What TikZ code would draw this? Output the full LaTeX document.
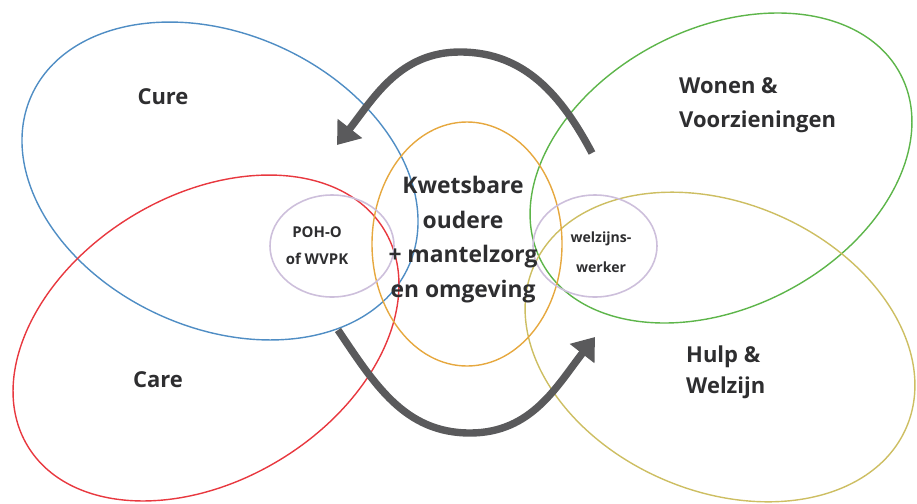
\documentclass[tikz,border=0pt]{standalone}
\usepackage{fontspec}
\setmainfont{Open Sans}
\usetikzlibrary{positioning, arrows.meta, shapes.geometric}
\definecolor{zBlue}{HTML}{4F8DC4}
\definecolor{zRed}{HTML}{E8383F}
\definecolor{zGreen}{HTML}{5DB54A}
\definecolor{zOlive}{HTML}{CDBE62}
\definecolor{zOrange}{HTML}{E6A83F}
\definecolor{zLila}{HTML}{CDBFDB}
\definecolor{zArrow}{HTML}{5A5A5C}
\definecolor{zText}{HTML}{2E2E30}

\begin{document}
\begin{tikzpicture}[
  every node/.style={font=\bfseries, text=zText},
  zone/.style={ellipse, draw, line width=0.8pt, inner sep=0pt},
  rol/.style={ellipse, draw=zLila, line width=0.9pt, inner sep=0pt,
              minimum width=2.48cm, minimum height=2.04cm},
  big/.style={font=\fontsize{12.5}{19}\selectfont\bfseries, align=left},
  small/.style={font=\fontsize{8.5}{15.5}\selectfont\bfseries, align=center},
  flow/.style={zArrow, line width=4.2pt,
               -{Triangle[length=0.42cm, width=0.6cm]}},
]
  \useasboundingbox (0,0) rectangle (18.34,10.06);

  % domains
  \node[zone, draw=zBlue, minimum width=8.28cm, minimum height=5.88cm,
        rotate=-24.5] (cure) at (4.40,6.44) {};
  \node[zone, draw=zRed, minimum width=8.34cm, minimum height=5.70cm,
        rotate=31.3] (care) at (4.12,3.30) {};
  \node[zone, draw=zGreen, minimum width=8.10cm, minimum height=5.58cm,
        rotate=27.4] (wonen) at (14.42,6.70) {};
  \node[zone, draw=zOlive, minimum width=8.12cm, minimum height=5.76cm,
        rotate=-23.4] (hulp) at (14.40,3.12) {};
  \node[zone, draw=zOrange, minimum width=3.80cm, minimum height=4.88cm]
        (kern) at (9.34,5.18) {};

  % linking roles
  \node[rol] (poh) at (6.64,5.14) {};
  \node[rol] (welzijn) at (11.90,5.14) {};

  % labels
  \node[big] (cureTxt) at (3.26,8.12) {Cure};
  \node[big] (careTxt) at (3.16,2.46) {Care};
  \node[big, anchor=west] (wonenTxt) at (13.46,7.96) {Wonen \&\\Voorzieningen};
  \node[big, anchor=west, font=\fontsize{12.5}{17.6}\selectfont\bfseries]
        (hulpTxt) at (13.60,2.61) {Hulp \&\\Welzijn};
  \node[big, align=center, font=\fontsize{13}{19.8}\selectfont\bfseries]
        (kernTxt) at (9.26,5.27) {Kwetsbare\\oudere\\+ mantelzorg\\en omgeving};
  \node[small] (pohTxt) at (6.34,5.14) {POH-O\\of WVPK};
  \node[small, font=\fontsize{8}{17}\selectfont\bfseries]
        (welzijnTxt) at (12.02,5.02) {welzijns-\\werker};

  % flows
  \coordinate (upStart) at (11.84,7.00);
  \coordinate (upTop) at (9.20,9.02);
  \coordinate (upEnd) at (6.74,7.16);
  \coordinate (lowStart) at (6.76,3.46);
  \coordinate (lowBot) at (9.40,1.40);
  \coordinate (lowEnd) at (11.90,3.32);
  \draw[flow] (upStart) to[out=118, in=0] (upTop) to[out=180, in=52] (upEnd);
  \draw[flow] (lowStart) to[out=-56, in=180] (lowBot) to[out=0, in=232] (lowEnd);
\end{tikzpicture}
\end{document}
